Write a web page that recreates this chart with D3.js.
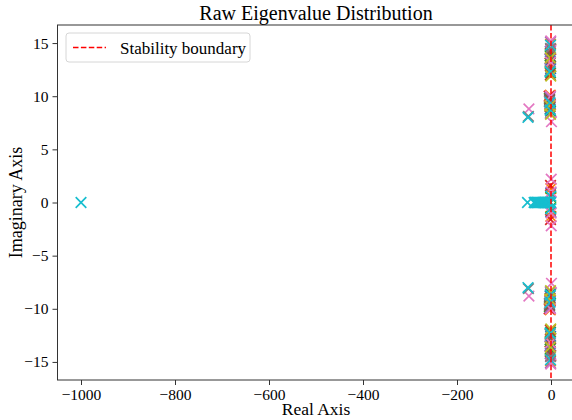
<!DOCTYPE html>
<html>
<head>
<meta charset="utf-8">
<script src="https://cdn.jsdelivr.net/npm/d3@7"></script>
<style>
  body { margin: 0; background: #fff; }
  svg text { font-family: "Liberation Serif", "Times New Roman", serif; fill: #000; }
</style>
</head>
<body>
<div id="chart"></div>
<script>
// tab10 colours, one per eigenvalue set
const seriesColors = ["#1f77b4", "#ff7f0e", "#2ca02c", "#d62728", "#9467bd",
  "#8c564b", "#e377c2", "#7f7f7f", "#bcbd22", "#17becf"]

// upper-half eigenvalues of each set (conjugates are mirrored below)
const seriesRe = [
  [-1.5, -0.8, -3.0, -2.0, -0.5],
  [-1.0, -2.0, -1.5, -2.5, -0.3],
  [-2.0, -1.0, -3.5, -1.0, -0.6],
  [-0.5, -1.5, -4.0, -2.0, -1.0],
  [-1.2, -2.5, -2.0, -1.5],
  [-1.8, -0.7, -3.0, -2.0],
  [-0.5, -1.0, -1.0, 1.0, -47, 0.5, 0.3],
  [-1.0, -2.0, -3.5, -48],
  [-1.5, -0.5, -2.5, -1.0],
  [-1.0, -2.0, -2.0, -1.5, -49, -0.5]
]
const seriesIm = [
  [14.2, 12.6, 9.6, 8.8, 0.9],
  [14.9, 13.1, 10.1, 9.2, 1.3],
  [13.8, 12.2, 9.8, 8.6, 0.5],
  [14.4, 12.0, 10.0, 9.3, 1.6],
  [15.1, 13.5, 9.9, 8.4],
  [14.0, 12.8, 9.7, 9.0],
  [15.2, 13.2, 10.0, 7.6, 8.8, 2.2, 1.0],
  [14.5, 12.4, 9.5, 8.1],
  [13.6, 11.9, 9.1, 8.3],
  [14.8, 12.3, 9.4, 8.7, 8.0, 0.6]
]
// purely real eigenvalues (last set)
const realOnly = [-1000, -50, -36, -34, -33, -31, -29, -27, -26, -24, -22, -20,
  -19, -17, -15, -13, -12, -10, -8, -7, -5, -3, -2, -1]

const titleText = "Raw Eigenvalue Distribution"
const xLabel = "Real Axis"
const yLabel = "Imaginary Axis"
const legendLabel = "Stability boundary"
const xTicks = [-1000, -800, -600, -400, -200, 0]
const yTicks = [-15, -10, -5, 0, 5, 10, 15]

const width = 572
const height = 420
const margin = {left: 57.5, top: 25, right: 574.5, bottom: 380}

const svg = d3.select("#chart").append("svg")
  .attr("width", width).attr("height", height)

const x = d3.scaleLinear().domain([-1050, 50]).range([margin.left, margin.right])
const y = d3.scaleLinear().domain([-16.7, 16.7]).range([margin.bottom, margin.top])

// 组装点
const points = []
seriesRe.forEach((re, s) => {
  re.forEach((r, i) => {
    points.push({re: r, im: seriesIm[s][i], c: seriesColors[s]})
    points.push({re: r, im: -seriesIm[s][i], c: seriesColors[s]})
  })
})
realOnly.forEach(r => points.push({re: r, im: 0, c: seriesColors[9]}))

const plot = svg.append("g")
const ms = 5.3
plot.selectAll("path.pt")
  .data(points)
  .enter()
  .append("path")
  .attr("class", "pt")
  .attr("d", d => {
    const px = x(d.re), py = y(d.im)
    return `M${px - ms},${py - ms}L${px + ms},${py + ms}M${px - ms},${py + ms}L${px + ms},${py - ms}`
  })
  .attr("stroke", d => d.c)
  .attr("stroke-width", 1.7)
  .attr("fill", "none")

// stability boundary
plot.append("line")
  .attr("x1", x(0)).attr("x2", x(0))
  .attr("y1", margin.top).attr("y2", margin.bottom)
  .attr("stroke", "red")
  .attr("stroke-width", 1.5)
  .attr("stroke-dasharray", "5.5,2.4")

// axes
const xAxis = svg.append("g")
  .attr("transform", `translate(0,${margin.bottom})`)
  .call(d3.axisBottom(x).tickValues(xTicks).tickSize(5).tickPadding(4)
    .tickFormat(d => d < 0 ? "\u2212" + Math.abs(d) : d))
const yAxis = svg.append("g")
  .attr("transform", `translate(${margin.left},0)`)
  .call(d3.axisLeft(y).tickValues(yTicks).tickSize(5).tickPadding(4)
    .tickFormat(d => d < 0 ? "\u2212" + Math.abs(d) : d))

;[xAxis, yAxis].forEach(a => {
  a.selectAll(".domain").remove()
  a.selectAll(".tick line").attr("stroke", "#333").attr("stroke-width", 1)
  a.selectAll(".tick text").attr("font-size", 15.5)
    .style("font-family", "'Liberation Serif', serif")
})

// spines
svg.append("rect")
  .attr("x", margin.left).attr("y", margin.top)
  .attr("width", margin.right - margin.left).attr("height", margin.bottom - margin.top)
  .attr("fill", "none").attr("stroke", "#333").attr("stroke-width", 1)

// labels
svg.append("text")
  .attr("x", (margin.left + margin.right) / 2).attr("y", 20)
  .attr("text-anchor", "middle").attr("font-size", 20)
  .text(titleText)
svg.append("text")
  .attr("x", (margin.left + margin.right) / 2).attr("y", 415)
  .attr("text-anchor", "middle").attr("font-size", 17.5)
  .text(xLabel)
svg.append("text")
  .attr("transform", `translate(22,${(margin.top + margin.bottom) / 2}) rotate(-90)`)
  .attr("text-anchor", "middle").attr("font-size", 18)
  .text(yLabel)

// legend
const lg = svg.append("g")
lg.append("rect")
  .attr("x", 66).attr("y", 33).attr("width", 184).attr("height", 29)
  .attr("rx", 3).attr("fill", "rgba(255,255,255,0.8)")
  .attr("stroke", "#d6d6d6").attr("stroke-width", 1)
lg.append("line")
  .attr("x1", 73).attr("x2", 106).attr("y1", 47.5).attr("y2", 47.5)
  .attr("stroke", "red").attr("stroke-width", 1.5)
  .attr("stroke-dasharray", "5.5,2.4")
lg.append("text")
  .attr("x", 120).attr("y", 53.5).attr("font-size", 17)
  .text(legendLabel)
</script>
</body>
</html>
